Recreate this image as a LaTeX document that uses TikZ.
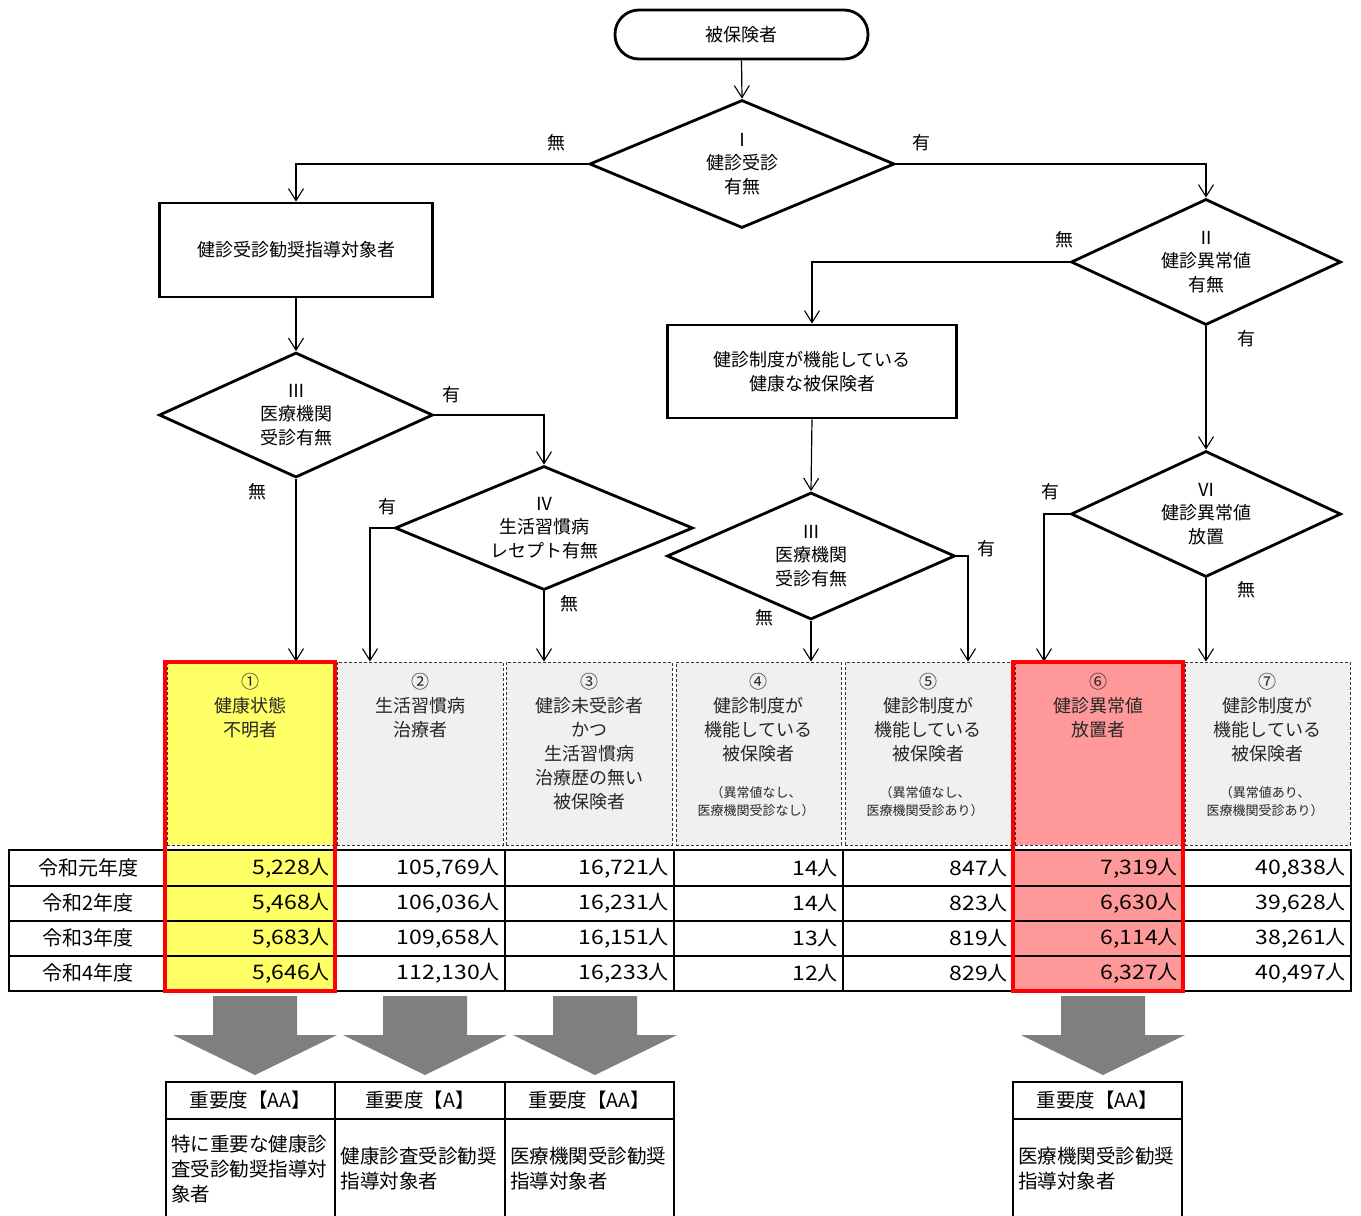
\documentclass[tikz,border=0pt]{standalone}
\usepackage{fontspec}
\setmainfont{Noto Sans CJK JP}
\newfontfamily\numfont{Noto Sans CJK JP}[FakeStretch=1.15]
\usetikzlibrary{arrows.meta,shapes.geometric,calc}
\definecolor{yellowF}{HTML}{FFFF66}
\definecolor{pinkF}{HTML}{FF9999}
\definecolor{grayF}{HTML}{F0F0F0}
\definecolor{redB}{HTML}{FF0000}
\definecolor{arrowG}{HTML}{7F7F7F}
\newcommand\fzA{\fontsize{18}{23.5}\selectfont}
\newcommand\fzC{\fontsize{18}{24}\selectfont}
\newcommand\fzS{\fontsize{13}{18}\selectfont}
\newcommand\fzN{\fontsize{20}{24}\selectfont}
\newcommand\fzB{\fontsize{19.5}{25}\selectfont}
\newcommand\nm[1]{{\numfont #1}人}
\begin{document}
\begin{tikzpicture}[x=1pt,y=-1pt,
  conn/.style={line width=1.2pt, -{Straight Barb[length=12pt,width=15pt,line width=1.1pt]}},
  dia/.style={diamond, draw, line width=2.8pt, inner sep=0pt, align=center, font=\fzA, aspect=2.4},
  pbox/.style={rectangle, draw, line width=2.8pt, align=center, font=\fzA, inner sep=0pt},
  lab/.style={font=\fzA, inner sep=0pt},
  catbox/.style={rectangle, draw=black!80, dash pattern=on 3pt off 2pt, line width=0.8pt, fill=grayF, inner sep=0pt, minimum height=183},
  cattext/.style={font=\fzC, align=center, inner sep=0pt, anchor=north, text=black!85},
  smalltext/.style={font=\fzS, align=center, inner sep=0pt, text=black!85},
  tline/.style={line width=1.8pt, line cap=rect},
  num/.style={anchor=east, inner sep=0pt, font=\fzN},
  rowlab/.style={inner sep=0pt, font=\fzN},
  redframe/.style={draw=redB, line width=3.5pt},
  bigarrow/.style={fill=arrowG, draw=none},
  hcell/.style={rectangle, draw, line width=1.8pt, minimum width=169, minimum height=37, inner sep=0pt, font=\fzB},
  bcell/.style={rectangle, draw, line width=1.8pt, minimum width=169, minimum height=100, inner xsep=5pt, inner ysep=0pt, text width=159pt, align=left, font=\fzB},
]
\useasboundingbox (0,0) rectangle (1361,1216);

% flowchart nodes
\node[pbox, rounded corners=24pt, minimum width=253, minimum height=49] (term) at (741.5,34.5) {被保険者};
\node[dia, minimum width=305, minimum height=128] (d1) at (742,164) {Ⅰ\\健診受診\\有無};
\node[dia, minimum width=270, minimum height=126] (d2) at (1206,262) {Ⅱ\\健診異常値\\有無};
\node[pbox, minimum width=273, minimum height=94] (box1) at (296,250) {健診受診勧奨指導対象者};
\node[pbox, minimum width=289, minimum height=93] (box2) at (812,371.5) {健診制度が機能している\\健康な被保険者};
\node[dia, minimum width=274, minimum height=125] (d3l) at (296,415) {Ⅲ\\医療機関\\受診有無};
\node[dia, minimum width=298, minimum height=124] (d4) at (544,528) {Ⅳ\\生活習慣病\\レセプト有無};
\node[dia, minimum width=288, minimum height=127] (d3r) at (811,556) {Ⅲ\\医療機関\\受診有無};
\node[dia, minimum width=270, minimum height=126] (d6) at (1206,514) {Ⅵ\\健診異常値\\放置};

% category boxes
\node[catbox, minimum width=166, fill=yellowF] (cat1) at (250,753.5) {};
\node[catbox, minimum width=166] (cat2) at (420,753.5) {};
\node[catbox, minimum width=166] (cat3) at (589,753.5) {};
\node[catbox, minimum width=165] (cat4) at (758.5,753.5) {};
\node[catbox, minimum width=166] (cat5) at (928,753.5) {};
\node[catbox, minimum width=166, fill=pinkF] (cat6) at (1098,753.5) {};
\node[catbox, minimum width=165] (cat7) at (1267.5,753.5) {};

\node[cattext] (t1) at (250,673) {①\\健康状態\\不明者};
\node[cattext] (t2) at (420,673) {②\\生活習慣病\\治療者};
\node[cattext] (t3) at (589,673) {③\\健診未受診者\\かつ\\生活習慣病\\治療歴の無い\\被保険者};
\node[cattext] (t4) at (758.5,673) {④\\健診制度が\\機能している\\被保険者};
\node[smalltext] (s4) at (756,802) {（異常値なし、\\医療機関受診なし）};
\node[cattext] (t5) at (928,673) {⑤\\健診制度が\\機能している\\被保険者};
\node[smalltext] (s5) at (925,802) {（異常値なし、\\医療機関受診あり）};
\node[cattext] (t6) at (1098,673) {⑥\\健診異常値\\放置者};
\node[cattext] (t7) at (1267.5,673) {⑦\\健診制度が\\機能している\\被保険者};
\node[smalltext] (s7) at (1265,802) {（異常値あり、\\医療機関受診あり）};

% connectors
\draw[conn] (term.south) -- (d1.north);
\draw[conn] (d1.west) -| (box1.north);
\draw[conn] (d1.east) -| (d2.north);
\draw[conn] (d2.west) -| (box2.north);
\draw[conn] (d2.south) -- (d6.north);
\draw[conn] (box1.south) -- (d3l.north);
\draw[conn] (d3l.east) -| (d4.north);
\draw[conn] (d3l.south) -- (d3l.south |- cat1.north);
\draw[conn] (d4.west) -| ([xshift=-50pt]cat2.north);
\draw[conn] (d4.south) -- (d4.south |- cat3.north);
\draw[conn] (box2.south) -- (d3r.north);
\draw[conn] (d3r.east) -| ([xshift=40pt]cat5.north);
\draw[conn] (d3r.south) -- (d3r.south |- cat4.north);
\draw[conn] (d6.west) -| ([xshift=-54pt]cat6.north);
\draw[conn] (d6.south) -- (d6.south |- cat7.north);

% branch labels
\node[lab] (l1) at (556,143) {無};
\node[lab] (l2) at (921,143) {有};
\node[lab] (l3) at (1064,240) {無};
\node[lab] (l4) at (1246,339) {有};
\node[lab] (l5) at (451,395) {有};
\node[lab] (l6) at (257,492) {無};
\node[lab] (l7) at (387,507) {有};
\node[lab] (l8) at (569,604) {無};
\node[lab] (l9) at (986,549) {有};
\node[lab] (l10) at (764,618) {無};
\node[lab] (l11) at (1050,492) {有};
\node[lab] (l12) at (1246,590) {無};

% table
\fill[yellowF] (165,850) rectangle (335,991);
\fill[pinkF] (1013,850) rectangle (1183,991);
\foreach \yy in {850,886,921,956,991} \draw[tline] (9,\yy) -- (1351,\yy);
\foreach \xx in {9,165,335,505,674,843,1013,1183,1351} \draw[tline] (\xx,850) -- (\xx,991);

\node[rowlab] (r1) at (88,868) {令和元年度};
\node[rowlab] (r2) at (88,903) {令和2年度};
\node[rowlab] (r3) at (88,938) {令和3年度};
\node[rowlab] (r4) at (88,973) {令和4年度};

\node[num] (v1a) at (330,868) {\nm{5,228}};
\node[num] (v1b) at (500,868) {\nm{105,769}};
\node[num] (v1c) at (669,868) {\nm{16,721}};
\node[num] (v1d) at (838,868) {\nm{14}};
\node[num] (v1e) at (1008,868) {\nm{847}};
\node[num] (v1f) at (1178,868) {\nm{7,319}};
\node[num] (v1g) at (1346,868) {\nm{40,838}};

\node[num] (v2a) at (330,903) {\nm{5,468}};
\node[num] (v2b) at (500,903) {\nm{106,036}};
\node[num] (v2c) at (669,903) {\nm{16,231}};
\node[num] (v2d) at (838,903) {\nm{14}};
\node[num] (v2e) at (1008,903) {\nm{823}};
\node[num] (v2f) at (1178,903) {\nm{6,630}};
\node[num] (v2g) at (1346,903) {\nm{39,628}};

\node[num] (v3a) at (330,938) {\nm{5,683}};
\node[num] (v3b) at (500,938) {\nm{109,658}};
\node[num] (v3c) at (669,938) {\nm{16,151}};
\node[num] (v3d) at (838,938) {\nm{13}};
\node[num] (v3e) at (1008,938) {\nm{819}};
\node[num] (v3f) at (1178,938) {\nm{6,114}};
\node[num] (v3g) at (1346,938) {\nm{38,261}};

\node[num] (v4a) at (330,973) {\nm{5,646}};
\node[num] (v4b) at (500,973) {\nm{112,130}};
\node[num] (v4c) at (669,973) {\nm{16,233}};
\node[num] (v4d) at (838,973) {\nm{12}};
\node[num] (v4e) at (1008,973) {\nm{829}};
\node[num] (v4f) at (1178,973) {\nm{6,327}};
\node[num] (v4g) at (1346,973) {\nm{40,497}};

% red frames
\draw[redframe] (165,662) rectangle (335,991);
\draw[redframe] (1013,662) rectangle (1183,991);

% big arrows
\foreach \cx in {255,425,595,1103}
  \fill[bigarrow] ({\cx-42},996) -- ({\cx+42},996) -- ({\cx+42},1035) -- ({\cx+82},1035)
     -- (\cx,1075) -- ({\cx-82},1035) -- ({\cx-42},1035) -- cycle;

% priority boxes
\node[hcell] (h1) at (250.5,1100.5) {重要度【AA】};
\node[hcell, minimum width=170] (h2) at (420,1100.5) {重要度【A】};
\node[hcell] (h3) at (589.5,1100.5) {重要度【AA】};
\node[hcell] (h4) at (1097.5,1100.5) {重要度【AA】};
\node[bcell] (b1) at (250.5,1169) {特に重要な健康診\\査受診勧奨指導対\\象者};
\node[bcell, minimum width=170] (b2) at (420,1169) {健康診査受診勧奨\\指導対象者};
\node[bcell] (b3) at (589.5,1169) {医療機関受診勧奨\\指導対象者};
\node[bcell] (b4) at (1097.5,1169) {医療機関受診勧奨\\指導対象者};
\end{tikzpicture}
\end{document}
